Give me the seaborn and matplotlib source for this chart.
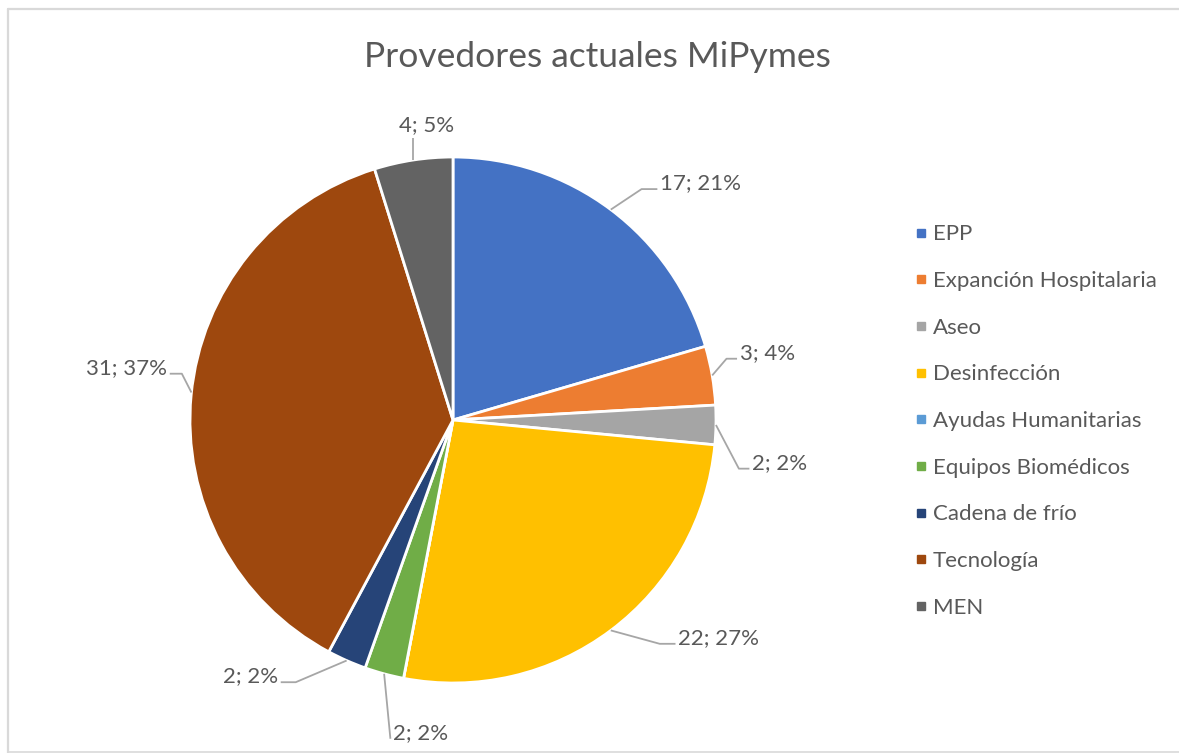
import matplotlib
matplotlib.use('Agg')
import matplotlib.pyplot as plt
import seaborn as sns
import numpy as np
from matplotlib.lines import Line2D

# datos
categorias = ['EPP', 'Expanción Hospitalaria', 'Aseo', 'Desinfección',
              'Ayudas Humanitarias', 'Equipos Biomédicos', 'Cadena de frío',
              'Tecnología', 'MEN']
valores = [17, 3, 2, 22, 0, 2, 2, 31, 4]
porcentajes = [21, 4, 2, 27, 0, 2, 2, 37, 5]  # como aparecen en la imagen
colores = ['#4472C4', '#ED7D31', '#A5A5A5', '#FFC000', '#5B9BD5',
           '#70AD47', '#264478', '#9E480E', '#636363']
titulo = 'Provedores actuales MiPymes'

# posicion de las etiquetas (unidades de radio), alineacion y tramo horizontal
etiq_pos = [(0.787, 0.90), (1.09, 0.255), (1.137, -0.163), (0.856, -0.829),
            None, (-0.228, -1.19), (-0.665, -0.975), (-1.087, 0.198), (-0.099, 1.122)]
etiq_ha = ['left', 'left', 'left', 'left', None, 'left', 'right', 'right', 'center']
etiq_seg = [0.06, 0.04, 0.04, 0.06, 0, 0.0, 0.057, 0.046, 0.0]
anclaje = {7: 174}  # angulo donde se engancha la linea guia de Tecnología

sns.set_theme(style='white')
plt.rcParams['font.family'] = ['Lato', 'DejaVu Sans']
gris = '#595959'

W, H = 1179, 753
cx, cy, R = 453, 420, 263
fig = plt.figure(figsize=(W / 100, H / 100), dpi=100)
ax = fig.add_axes([0, 0, 1, 1])

ax.pie(valores, colors=colores, startangle=90, counterclock=False, radius=1,
       wedgeprops=dict(edgecolor='white', linewidth=2))
ax.set_aspect('auto')
ax.set_xlim(-cx / R, (W - cx) / R)
ax.set_ylim(-(H - cy) / R, cy / R)
ax.axis('off')

total = sum(valores)
acum = 0
for i, v in enumerate(valores):
    a0 = 90 - acum / total * 360
    acum += v
    if v == 0:
        continue
    a1 = 90 - acum / total * 360
    ang = np.deg2rad(anclaje.get(i, (a0 + a1) / 2))
    ex, ey = np.cos(ang), np.sin(ang)
    tx, ty = etiq_pos[i]
    ha = etiq_ha[i]
    texto = f'{v}; {porcentajes[i]}%'
    ax.text(tx, ty, texto, ha=ha, va='center', fontsize=16, color=gris)
    if ha == 'center':
        xs, ys = [ex, ex], [ey, ty - 0.05]
    else:
        s = 1 if ha == 'left' else -1
        ly = ty - 0.022
        fin = tx - s * 0.01
        codo = fin - s * etiq_seg[i]
        xs, ys = [ex, codo, fin], [ey, ly, ly]
    ax.plot(xs, ys, color='#A6A6A6', lw=1.3, solid_capstyle='butt')

fig.text(597 / W, 1 - 57 / H, titulo, ha='center', va='center',
         fontsize=25.5, color=gris)

handles = [Line2D([], [], marker='s', linestyle='none', markersize=6,
                  markerfacecolor=c, markeredgecolor=c) for c in colores]
fig.legend(handles, categorias, loc='center left',
           bbox_to_anchor=(907 / W, 1 - 421 / H), frameon=False,
           fontsize=16, labelcolor=gris, handlelength=0.5,
           handletextpad=0.25, labelspacing=1.2, borderaxespad=0)

# marco del grafico
borde = '#D9D9D9'
fig.add_artist(Line2D([8 / W, 8 / W], [0, 1 - 9 / H], color=borde, lw=1.6))
fig.add_artist(Line2D([8 / W, 1], [1 - 9 / H, 1 - 9 / H], color=borde, lw=1.6))
fig.add_artist(Line2D([8 / W, 1], [1.5 / H, 1.5 / H], color=borde, lw=1.2))

fig.savefig('out.png', dpi=100)
